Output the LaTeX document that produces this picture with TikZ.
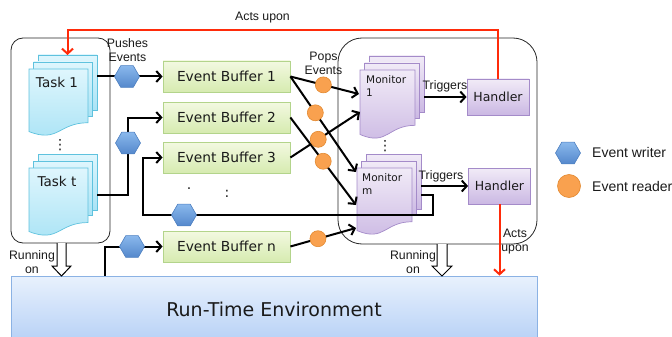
\documentclass[tikz,border=0pt]{standalone}
\usepackage{fontspec}
\setmainfont{DejaVu Sans}
\newfontfamily\arialf{Liberation Sans}
\usetikzlibrary{shapes.geometric,arrows.meta,calc}
\definecolor{txt}{HTML}{1A1A1A}
\definecolor{taskT}{HTML}{DFF6FD}
\definecolor{taskBo}{HTML}{A9E3F5}
\definecolor{taskB}{HTML}{5FC2DE}
\definecolor{monT}{HTML}{F1EBF7}
\definecolor{monBo}{HTML}{CBB8E3}
\definecolor{monB}{HTML}{A48BC9}
\definecolor{ebT}{HTML}{F3F9E1}
\definecolor{ebBo}{HTML}{D6EBB0}
\definecolor{ebB}{HTML}{B3D48B}
\definecolor{hexT}{HTML}{8AB8EC}
\definecolor{hexBo}{HTML}{5488CC}
\definecolor{hexB}{HTML}{4D7FC0}
\definecolor{rdF}{HTML}{F9A14F}
\definecolor{rdB}{HTML}{E3892F}
\definecolor{rteT}{HTML}{E8F1FD}
\definecolor{rteBo}{HTML}{B7D1F6}
\definecolor{rteB}{HTML}{8BB2E4}
\definecolor{actred}{HTML}{FF2B0A}
\newcommand\mdoc[6]{%
  \draw[#6] ({#2+9},{#3-14}) rectangle ({#2+#4+9},{#3+0.62*#5});
  \draw[#6] ({#2+4.5},{#3-7}) rectangle ({#2+#4+4.5},{#3+0.70*#5});
  \draw[#6] (#2,#3) -- ({#2+#4},#3) -- ({#2+#4},{#3+0.802*#5})
     .. controls ({#2+#4/2},{#3+0.802*#5}) and ({#2+#4/2},{#3+1.108*#5}) .. (#2,{#3+0.934*#5}) -- cycle;
  \node[inner sep=0pt, outer sep=0pt, minimum width={(#4+9)*1pt}, minimum height={(#5+14)*1pt}] (#1) at ({#2+(#4+9)/2},{#3-14+(#5+14)/2}) {};
}
\begin{document}
\begin{tikzpicture}[x=1pt,y=-1pt,
  taskdoc/.style={draw=taskB, line width=0.7pt, top color=taskT, bottom color=taskBo},
  mondoc/.style={draw=monB, line width=0.7pt, top color=monT, bottom color=monBo},
  ebox/.style={draw=ebB, line width=0.8pt, top color=ebT, bottom color=ebBo, minimum width=127pt, minimum height=31pt, inner sep=0pt, font=\fontsize{13.8}{16}\selectfont, text=txt},
  hbox/.style={draw=monB, line width=0.8pt, top color=monT, bottom color=monBo, minimum width=62pt, minimum height=36pt, inner sep=0pt, font=\fontsize{12.5}{15}\selectfont, text=txt},
  hexw/.style={regular polygon, regular polygon sides=6, minimum size=25pt, inner sep=0pt, draw=hexB, line width=0.6pt, top color=hexT, bottom color=hexBo},
  reader/.style={circle, minimum size=16pt, inner sep=0pt, draw=rdB, fill=rdF, line width=0.6pt},
  conn/.style={line width=2pt, draw=black},
  arr/.style={-{Straight Barb[length=5pt,width=11pt]}},
  act/.style={line width=2pt, draw=actred},
  lbl/.style={font=\arialf\fontsize{12.3}{14}\selectfont, align=center, text=txt, inner sep=0pt},
  doctxt/.style={font=\fontsize{13.5}{16}\selectfont, text=txt, inner sep=0pt},
  montxt/.style={font=\fontsize{10.5}{12.5}\selectfont, text=txt, inner sep=0pt, align=left, anchor=north west},
  outline/.style={draw=black!85, line width=0.8pt},
  hollow/.style={draw=black, line width=1pt, fill=white},
  dots/.style={font=\fontsize{14}{14}\selectfont, text=txt, inner sep=0pt}
]
\useasboundingbox (0,0) rectangle (672,337);

% containers
\node[outline, rounded corners=12pt, minimum width=99pt, minimum height=205pt, inner sep=0pt] (tbox) at (60.5,140.5) {};
\node[outline, rounded corners=24pt, minimum width=199pt, minimum height=206pt, inner sep=0pt] (mbox) at (437.5,141) {};

% run-time environment
\node[draw=rteB, line width=0.8pt, top color=rteT, bottom color=rteBo, minimum width=526pt, minimum height=66pt, inner sep=0pt, font=\fontsize{19}{22}\selectfont, text=txt] (rte) at (274,309) {Run-Time Environment};

% running-on block arrows
\draw[hollow] (57,243) -- (57,266) -- (52,266) -- (61.5,276) -- (71,266) -- (66,266) -- (66,243);
\draw[hollow] (437,244) -- (437,266) -- (432,266) -- (442,276) -- (452,266) -- (447,266) -- (447,244);

% documents
\mdoc{task1}{29}{69}{59}{67}{taskdoc}
\mdoc{taskt}{29}{168}{59}{68}{taskdoc}
\mdoc{mon1}{360}{70}{55}{69}{mondoc}
\mdoc{monm}{357}{168}{55}{67}{mondoc}
\node[doctxt] (t1txt) at (57,82) {Task 1};
\node[doctxt] (tttxt) at (57,181.5) {Task t};
\node[montxt] (m1txt) at (366,75.5) {Monitor\\1};
\node[montxt] (mmtxt) at (362,173.5) {Monitor\\m};
\node[dots] (vd1) at (60,145) {⋮};
\node[dots] (vd2) at (385,146) {⋮};

% event buffers
\node[ebox] (eb1) at (226.5,76.5) {Event Buffer 1};
\node[ebox] (eb2) at (226.5,117.5) {Event Buffer 2};
\node[ebox] (eb3) at (226.5,157.5) {Event Buffer 3};
\node[ebox] (ebn) at (226.5,246.5) {Event Buffer n};
\node[dots, anchor=base] (hd1) at (189,189) {.};
\node[dots, anchor=base] (hd2) at (227,197.5) {:};

% handlers
\node[hbox] (h1) at (498,97) {Handler};
\node[hbox] (h2) at (499.5,186) {Handler};

% coordinates
\coordinate (hw1) at (127,76.5);
\coordinate (hw2) at (128,143);
\coordinate (hw3) at (184,215);
\coordinate (hw4) at (132,246.5);
\coordinate (loopR) at (433,215);
\coordinate (loopL) at (143,215);
\coordinate (m1a) at (359,94);
\coordinate (m1b) at (360,112);
\coordinate (mma) at (356,172);
\coordinate (mmb) at (356,205);
\coordinate (mmc) at (356,228);
\coordinate (tk1in) at (67.5,55);
\coordinate (actsy) at (0,30);

% writer connectors
\draw[conn,arr] (task1.east |- eb1.west) -- (eb1.west);
\draw[conn,arr] (taskt.east |- 0,195) -| (hw2) |- (eb2.west);
\draw[conn,arr] (monm.east |- 0,195) -| (loopR) -- (loopL) |- (eb3.west);
\draw[conn,arr] (105,0 |- rte.north) |- (ebn.west);

% reader connectors
\draw[conn,arr] (eb1.east) -- (m1a);
\draw[conn,arr] (eb1.east) -- (mma);
\draw[conn,arr] (eb2.east) -- (mmb);
\draw[conn,arr] (eb3.east) -- (m1b);
\draw[conn,arr] (ebn.east) -- (mmc);

% triggers
\draw[conn,arr] (mon1.east |- h1.west) -- (h1.west);
\draw[conn,arr] (monm.east |- h2.west) -- (h2.west);

% acts upon
\draw[act,arr] (h1.north) |- (tk1in |- actsy) -- (tk1in);
\draw[act,arr] (h2.south) -- (h2.south |- rte.north);

% writers and readers
\node[hexw] (w1) at (hw1) {};
\node[hexw] (w2) at (hw2) {};
\node[hexw] (w3) at (hw3) {};
\node[hexw] (w4) at (hw4) {};
\node[reader] (r1) at ($(eb1.east)!0.48!(m1a)$) {};
\node[reader] (r2) at ($(eb1.east)!0.38!(mma)$) {};
\node[reader] (r3) at ($(eb3.east)!0.4!(m1b)$) {};
\node[reader] (r4) at ($(eb2.east)!0.5!(mmb)$) {};
\node[reader] (r5) at ($(ebn.east)!0.42!(mmc)$) {};

% labels
\node[lbl] (lpush) at (127.5,50) {Pushes\\Events};
\node[lbl] (lpop) at (323.5,63) {Pops\\Events};
\node[lbl] (ltr1) at (445,86) {Triggers};
\node[lbl] (ltr2) at (441,176) {Triggers};
\node[lbl] (lact1) at (262.5,18) {Acts upon};
\node[lbl] (lact2) at (515,241.5) {Acts\\upon};
\node[lbl] (lrun1) at (32,262.5) {Running\\on};
\node[lbl] (lrun2) at (413,262.5) {Running\\on};

% legend
\node[hexw] (lgw) at (568,153) {};
\node[reader, minimum size=23pt] (lgr) at (569,186) {};
\node[lbl, font=\arialf\fontsize{14}{16}\selectfont, anchor=west] (lgwt) at (592,152) {Event writer};
\node[lbl, font=\arialf\fontsize{14}{16}\selectfont, anchor=west] (lgrt) at (592,186) {Event reader};
\end{tikzpicture}
\end{document}
